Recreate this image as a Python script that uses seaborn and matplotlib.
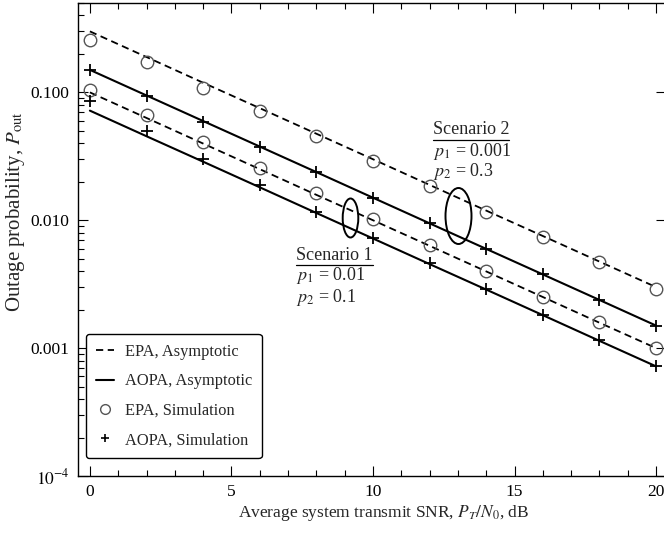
import numpy as np
import pandas as pd
import matplotlib
matplotlib.use("Agg")
import matplotlib.pyplot as plt
import matplotlib.ticker as mticker
from matplotlib.patches import Ellipse
from matplotlib.lines import Line2D
import seaborn as sns

# ---------------- data ----------------
snr_db = [0, 2, 4, 6, 8, 10, 12, 14, 16, 18, 20]

# Scenario 2 (p1 = 0.001, p2 = 0.3)
epa_asym_s2 = [0.300, 0.189, 0.119, 0.0753, 0.0475, 0.0300, 0.0189, 0.0119, 0.00753, 0.00475, 0.00300]
aopa_asym_s2 = [0.150, 0.0946, 0.0597, 0.0377, 0.0238, 0.0150, 0.00946, 0.00597, 0.00377, 0.00238, 0.00150]
epa_sim_s2 = [0.255, 0.172, 0.109, 0.071, 0.046, 0.0292, 0.0186, 0.0117, 0.0074, 0.0047, 0.0029]
aopa_sim_s2 = [0.149, 0.093, 0.059, 0.0375, 0.0237, 0.0150, 0.0095, 0.0060, 0.0038, 0.0024, 0.0015]

# Scenario 1 (p1 = 0.01, p2 = 0.1)
epa_asym_s1 = [0.100, 0.0631, 0.0398, 0.0251, 0.0158, 0.0100, 0.00631, 0.00398, 0.00251, 0.00158, 0.00100]
aopa_asym_s1 = [0.072, 0.0454, 0.0287, 0.0181, 0.0114, 0.0072, 0.00454, 0.00287, 0.00181, 0.00114, 0.00072]
epa_sim_s1 = [0.105, 0.066, 0.041, 0.0258, 0.0162, 0.0102, 0.0064, 0.0040, 0.0025, 0.0016, 0.0010]
aopa_sim_s1 = [0.085, 0.050, 0.030, 0.0187, 0.0116, 0.0073, 0.0046, 0.0029, 0.00182, 0.00115, 0.00072]

legend_labels = ["EPA, Asymptotic", "AOPA, Asymptotic", "EPA, Simulation", "AOPA, Simulation"]
ytick_vals = [1e-4, 1e-3, 1e-2, 1e-1]
ytick_labels = [r"$10^{-4}$", "0.001", "0.010", "0.100"]
xtick_vals = [0, 5, 10, 15, 20]

# ---------------- style ----------------
sns.set_style("ticks")
plt.rcParams["font.family"] = ["Liberation Serif", "DejaVu Serif"]
plt.rcParams["mathtext.fontset"] = "stix"

W, H = 664, 533
fig = plt.figure(figsize=(W / 100, H / 100), dpi=100)
ax_l, ax_r, ax_t, ax_b = 78, 666, 3, 476
ax = fig.add_axes([ax_l / W, (H - ax_b) / H, (ax_r - ax_l) / W, (ax_b - ax_t) / H])

dash = (0, (4, 2.5))
lw = 1.3

for ys in (epa_asym_s2, epa_asym_s1):
    sns.lineplot(x=snr_db, y=ys, ax=ax, color="k", lw=lw, linestyle=dash)
for ys in (aopa_asym_s2, aopa_asym_s1):
    sns.lineplot(x=snr_db, y=ys, ax=ax, color="k", lw=lw + 0.2)
for ys in (epa_sim_s2, epa_sim_s1):
    sns.lineplot(x=snr_db, y=ys, ax=ax, linestyle="none", marker="o", ms=9,
                 mfc="none", mec="#555555", mew=1.0)
for ys in (aopa_sim_s2, aopa_sim_s1):
    sns.lineplot(x=snr_db, y=ys, ax=ax, linestyle="none", marker="+", ms=8,
                 mec="k", mew=1.3, color="k")

ax.set_yscale("log")
ax.set_xlim(-0.42, 20.35)
ax.set_ylim(1e-4, 0.5)
ax.set_yticks(ytick_vals)
ax.set_yticklabels(ytick_labels)
ax.yaxis.set_minor_locator(mticker.LogLocator(base=10, subs=np.arange(2, 10)))
ax.yaxis.set_minor_formatter(mticker.NullFormatter())
ax.set_xticks(xtick_vals)
ax.xaxis.set_minor_locator(mticker.MultipleLocator(1))
ax.tick_params(which="both", direction="in", top=True, right=True, colors="k",
               labelsize=12.5, width=0.8)
ax.tick_params(which="major", length=7, pad=6)
ax.tick_params(which="minor", length=4, right=False)
for s in ax.spines.values():
    s.set_color("k")
    s.set_linewidth(1.0)

ax.set_xlabel(r"Average system transmit SNR, $P_T/N_0$, dB", fontsize=12.5)
ax.set_ylabel(r"Outage probability, $P_{\rm out}$", fontsize=15)
ax.xaxis.set_label_coords(0.52, -0.058)
ax.yaxis.set_label_coords(-0.086, (ax_b - 212) / (ax_b - ax_t))

# legend
handles = [
    Line2D([], [], color="k", lw=lw, linestyle=dash),
    Line2D([], [], color="k", lw=lw + 0.2),
    Line2D([], [], linestyle="none", marker="o", ms=7, mfc="none", mec="#555555", mew=1.0),
    Line2D([], [], linestyle="none", marker="+", ms=6, mec="k", mew=1.2),
]
leg = ax.legend(handles, legend_labels, loc="lower left",
                bbox_to_anchor=((86 - ax_l) / (ax_r - ax_l), (ax_b - 458) / (ax_b - ax_t)),
                borderaxespad=0, frameon=True, fancybox=True, framealpha=1,
                edgecolor="k", fontsize=11.8, handlelength=1.1, handletextpad=0.65,
                labelspacing=0.82, borderpad=0.6)
leg.get_frame().set_linewidth(1.0)

# annotations
def fx(px):
    return (px - ax_l) / (ax_r - ax_l)

def fy(py):
    return (ax_b - py) / (ax_b - ax_t)

tfs = 13
t2 = ax.text(fx(433), fy(130), "Scenario 2", transform=ax.transAxes, fontsize=tfs, va="center")
ax.text(fx(433), fy(151), r"$p_1$ = 0.001", transform=ax.transAxes, fontsize=tfs, va="center")
ax.text(fx(433), fy(172), r"$p_2$ = 0.3", transform=ax.transAxes, fontsize=tfs, va="center")
t1 = ax.text(fx(296), fy(255), "Scenario 1", transform=ax.transAxes, fontsize=tfs, va="center")
ax.text(fx(296), fy(276), r"$p_1$ = 0.01", transform=ax.transAxes, fontsize=tfs, va="center")
ax.text(fx(296), fy(297), r"$p_2$ = 0.1", transform=ax.transAxes, fontsize=tfs, va="center")

ax.add_patch(Ellipse((fx(350.5), fy(218)), 15.6 / (ax_r - ax_l), 39 / (ax_b - ax_t),
                     transform=ax.transAxes, fill=False, ec="k", lw=1.4))
ax.add_patch(Ellipse((fx(458.5), fy(216)), 26 / (ax_r - ax_l), 56 / (ax_b - ax_t),
                     transform=ax.transAxes, fill=False, ec="k", lw=1.4))

fig.canvas.draw()
r = fig.canvas.get_renderer()
for t in (t1, t2):
    bb = t.get_window_extent(r)
    fig.add_artist(Line2D([bb.x0 / W, bb.x1 / W], [(bb.y0 - 1) / H, (bb.y0 - 1) / H],
                          color="k", lw=0.9, transform=fig.transFigure))

fig.savefig("out.png", dpi=100)
